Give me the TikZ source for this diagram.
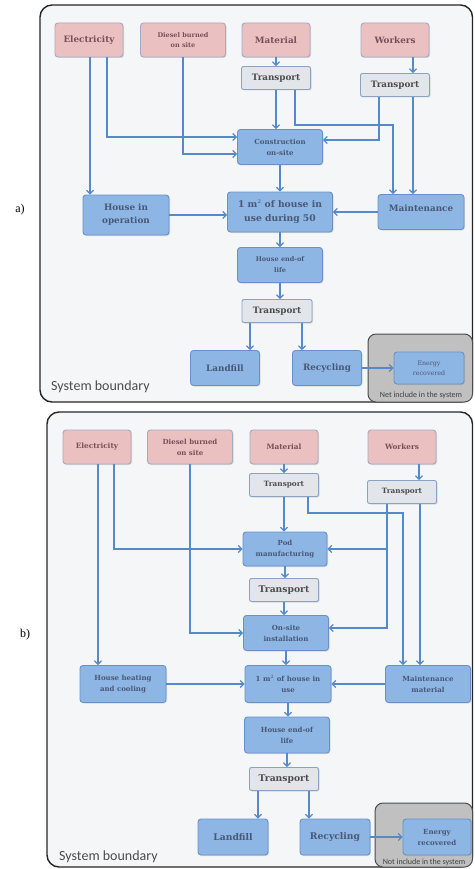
\documentclass[tikz,border=0pt]{standalone}
\usepackage{fontspec}
\setmainfont{DejaVu Serif}
\newfontfamily\boundfont{Carlito}
\newfontfamily\labfont{Liberation Serif}
\usetikzlibrary{arrows.meta,shadows}
\definecolor{pinkfill}{RGB}{234,192,192}
\definecolor{pinkline}{RGB}{165,170,195}
\definecolor{pinktext}{RGB}{120,80,90}
\definecolor{greyfill}{RGB}{226,229,234}
\definecolor{greyline}{RGB}{140,162,195}
\definecolor{bluefill}{RGB}{142,182,228}
\definecolor{blueline}{RGB}{105,145,200}
\definecolor{bluetext}{RGB}{72,88,118}
\definecolor{arrowblue}{RGB}{85,138,202}
\definecolor{panelbg}{RGB}{245,246,248}
\definecolor{outbox}{RGB}{192,192,192}
\begin{document}
\begin{tikzpicture}[x=1pt,y=-1pt,
    inbox/.style={draw=pinkline, line width=0.9pt, fill=pinkfill, rounded corners=3pt,
      align=center, inner sep=1pt, text=pinktext, minimum width=68pt, minimum height=34pt,
      drop shadow={opacity=0.25, shadow xshift=1pt, shadow yshift=-1pt}},
    trbox/.style={draw=greyline, line width=0.9pt, fill=greyfill, rounded corners=2pt,
      align=center, inner sep=1pt, text=black!70, minimum width=69pt, minimum height=23pt,
      drop shadow={opacity=0.25, shadow xshift=1pt, shadow yshift=-1pt}},
    stage/.style={draw=blueline, line width=0.9pt, fill=bluefill, rounded corners=3pt,
      align=center, inner sep=1pt, text=bluetext, minimum width=85pt, minimum height=35pt,
      drop shadow={opacity=0.25, shadow xshift=1pt, shadow yshift=-1pt}},
    arr/.style={draw=arrowblue, line width=1.2pt, -{Straight Barb[length=3.5pt,width=7pt]}},
    panel/.style={draw=black!85, line width=1.4pt, fill=panelbg, rounded corners=12pt},
    outside/.style={draw=black!70, line width=1pt, fill=outbox, rounded corners=8pt}]
  \useasboundingbox (0,0) rectangle (474,869);

  % a)
  \draw[panel] (40,5) rectangle (472.5,402);
  \node[font=\labfont\fontsize{12}{14}\selectfont] (labA) at (20,210) {a)};
  \node[inbox, font=\bfseries\fontsize{8.8}{11}\selectfont] (elecA) at (89,40) {Electricity};
  \node[inbox, minimum width=85pt, font=\bfseries\fontsize{6.5}{10}\selectfont] (dieselA) at (183,40) {Diesel burned\\on site};
  \node[inbox, font=\bfseries\fontsize{8.8}{11}\selectfont] (matA) at (276,40) {Material};
  \node[inbox, font=\bfseries\fontsize{8.8}{11}\selectfont] (workA) at (395,40) {Workers};
  \node[trbox, font=\bfseries\fontsize{8.8}{11}\selectfont] (trA1) at (276,78) {Transport};
  \node[trbox, font=\bfseries\fontsize{8.8}{11}\selectfont] (trA2) at (395,85) {Transport};
  \node[stage, font=\bfseries\fontsize{7}{11}\selectfont] (consA) at (280,147) {Construction\\on-site};
  \node[stage, minimum width=86pt, minimum height=40pt, font=\bfseries\fontsize{8.8}{13}\selectfont] (houseA) at (126,215) {House in\\operation};
  \node[stage, minimum width=105pt, minimum height=40pt, font=\bfseries\fontsize{9.2}{14}\selectfont] (useA) at (280,212) {1 m$^2$ of house in\\use during 50};
  \node[stage, minimum width=86pt, text depth=8pt, font=\bfseries\fontsize{8.8}{11}\selectfont] (maintA) at (421,212) {Maintenance};
  \node[stage, font=\bfseries\fontsize{6.5}{11}\selectfont] (endA) at (280,265) {House end-of\\life};
  \node[trbox, minimum width=70pt, font=\bfseries\fontsize{8.8}{11}\selectfont] (trA3) at (277,311) {Transport};
  \node[stage, minimum width=69pt, font=\bfseries\fontsize{8.8}{11}\selectfont] (landA) at (225,368) {Landfill};
  \node[stage, minimum width=69pt, font=\bfseries\fontsize{8.8}{11}\selectfont] (recA) at (327,368) {Recycling};
  \draw[outside] (368,334) rectangle (472.5,402);
  \node[stage, minimum width=70pt, minimum height=32pt, font=\fontsize{6.3}{10}\selectfont] (enA) at (429,368) {Energy\\recovered};
  \node[font=\boundfont\fontsize{8}{9}\selectfont, text=black!75, inner sep=0pt] (notA) at (421,395) {Net include in the system};
  \node[font=\boundfont\fontsize{14}{16}\selectfont, text=black!70, anchor=west, inner sep=0pt] (sysA) at (51,387) {System boundary};
  \coordinate (bendA) at (393,125);

  \draw[arr] ([xshift=1pt]elecA.south) -- ([xshift=1pt]elecA.south |- houseA.north);
  \draw[arr] ([xshift=18pt]elecA.south) |- ([yshift=10pt]consA.west);
  \draw[arr] (dieselA.south) |- ([yshift=-7pt]consA.west);
  \draw[arr] (matA) -- (trA1);
  \draw[arr] (trA1) -- (trA1 |- consA.north);
  \draw[arr] ([xshift=19pt]trA1.south) |- (bendA) -- (bendA |- maintA.north);
  \draw[arr] ([xshift=18pt]workA.south) -- ([xshift=18pt]workA.south |- trA2.north);
  \draw[arr] ([xshift=-16pt]trA2.south) |- ([yshift=7pt]consA.east);
  \draw[arr] ([xshift=18pt]trA2.south) -- ([xshift=18pt]trA2.south |- maintA.north);
  \draw[arr] (consA) -- (consA |- useA.north);
  \draw[arr] (houseA.east) -- (houseA.east -| useA.west);
  \draw[arr] (maintA.west) -- (maintA.west -| useA.east);
  \draw[arr] (useA.south) -- (useA.south |- endA.north);
  \draw[arr] (endA.south) -- (endA.south |- trA3.north);
  \draw[arr] ([xshift=-27pt]trA3.south) -- ([xshift=-27pt]trA3.south |- landA.north);
  \draw[arr] ([xshift=25pt]trA3.south) -- ([xshift=25pt]trA3.south |- recA.north);
  \draw[arr] (recA.east) -- (enA.west);

  % b)
  \draw[panel] (47,412) rectangle (472.5,867);
  \node[font=\labfont\fontsize{12}{14}\selectfont] (labB) at (25,635) {b)};
  \node[inbox, font=\bfseries\fontsize{7.3}{11}\selectfont] (elecB) at (97,447) {Electricity};
  \node[inbox, minimum width=85pt, font=\bfseries\fontsize{7}{11}\selectfont] (dieselB) at (190,447) {Diesel burned\\on site};
  \node[inbox, font=\bfseries\fontsize{7.3}{11}\selectfont] (matB) at (284,447) {Material};
  \node[inbox, font=\bfseries\fontsize{7.3}{11}\selectfont] (workB) at (402,447) {Workers};
  \node[trbox, font=\bfseries\fontsize{7.3}{11}\selectfont] (trB1) at (284,485) {Transport};
  \node[trbox, font=\bfseries\fontsize{7.3}{11}\selectfont] (trB2) at (402,492) {Transport};
  \node[stage, minimum width=84pt, minimum height=34pt, font=\bfseries\fontsize{7}{11}\selectfont] (podB) at (285,549) {Pod\\manufacturing};
  \node[trbox, font=\bfseries\fontsize{9.2}{11}\selectfont] (trB3) at (284,590) {Transport};
  \node[stage, font=\bfseries\fontsize{7}{11}\selectfont] (siteB) at (286,633) {On-site\\installation};
  \node[stage, minimum width=86pt, minimum height=37pt, font=\bfseries\fontsize{7}{11}\selectfont] (heatB) at (123,684) {House heating\\and cooling};
  \node[stage, minimum width=86pt, minimum height=37pt, font=\bfseries\fontsize{7}{11}\selectfont] (useB) at (288,684) {1 m$^2$ of house in\\use};
  \node[stage, minimum width=85pt, minimum height=37pt, font=\bfseries\fontsize{7}{11}\selectfont] (maintB) at (428,684) {Maintenance\\material};
  \node[stage, minimum height=36pt, font=\bfseries\fontsize{7}{11}\selectfont] (endB) at (287,735) {House end-of\\life};
  \node[trbox, font=\bfseries\fontsize{9.2}{11}\selectfont] (trB4) at (284,779) {Transport};
  \node[stage, minimum width=70pt, minimum height=36pt, font=\bfseries\fontsize{9.2}{11}\selectfont] (landB) at (233,837) {Landfill};
  \node[stage, minimum width=70pt, minimum height=36pt, font=\bfseries\fontsize{9.2}{11}\selectfont] (recB) at (335,837) {Recycling};
  \draw[outside] (375,803) rectangle (472.5,867);
  \node[stage, minimum width=68pt, minimum height=36pt, font=\bfseries\fontsize{7}{11}\selectfont] (enB) at (437,837) {Energy\\recovered};
  \node[font=\boundfont\fontsize{8}{9}\selectfont, text=black!75, inner sep=0pt] (notB) at (424,862) {Not include in the system};
  \node[font=\boundfont\fontsize{14}{16}\selectfont, text=black!70, anchor=west, inner sep=0pt] (sysB) at (59,857) {System boundary};
  \coordinate (bendB) at (403,513);
  \coordinate (jB) at (387,549);

  \draw[arr] ([xshift=1pt]elecB.south) -- ([xshift=1pt]elecB.south |- heatB.north);
  \draw[arr] ([xshift=17pt]elecB.south) |- (podB.west);
  \draw[arr] (dieselB.south) |- (siteB.west);
  \draw[arr] (matB) -- (trB1);
  \draw[arr] (trB1) -- (trB1 |- podB.north);
  \draw[arr] ([xshift=24pt]trB1.south) |- (bendB) -- (bendB |- maintB.north);
  \draw[arr] ([xshift=17pt]workB.south) -- ([xshift=17pt]workB.south |- trB2.north);
  \draw[arr] ([xshift=-15pt]trB2.south) |- ([yshift=5pt]siteB.east);
  \draw[arr] (jB) -- (jB -| podB.east);
  \draw[arr] ([xshift=18pt]trB2.south) -- ([xshift=18pt]trB2.south |- maintB.north);
  \draw[arr] (podB.south) -- (podB.south |- trB3.north);
  \draw[arr] (trB3) -- (trB3 |- siteB.north);
  \draw[arr] (siteB.south) -- (siteB.south |- useB.north);
  \draw[arr] (heatB.east) -- (heatB.east -| useB.west);
  \draw[arr] (maintB.west) -- (maintB.west -| useB.east);
  \draw[arr] (useB.south) -- (useB.south |- endB.north);
  \draw[arr] (endB.south) -- (endB.south |- trB4.north);
  \draw[arr] ([xshift=-26pt]trB4.south) -- ([xshift=-26pt]trB4.south |- landB.north);
  \draw[arr] ([xshift=25pt]trB4.south) -- ([xshift=25pt]trB4.south |- recB.north);
  \draw[arr] (recB.east) -- (enB.west);
\end{tikzpicture}
\end{document}
